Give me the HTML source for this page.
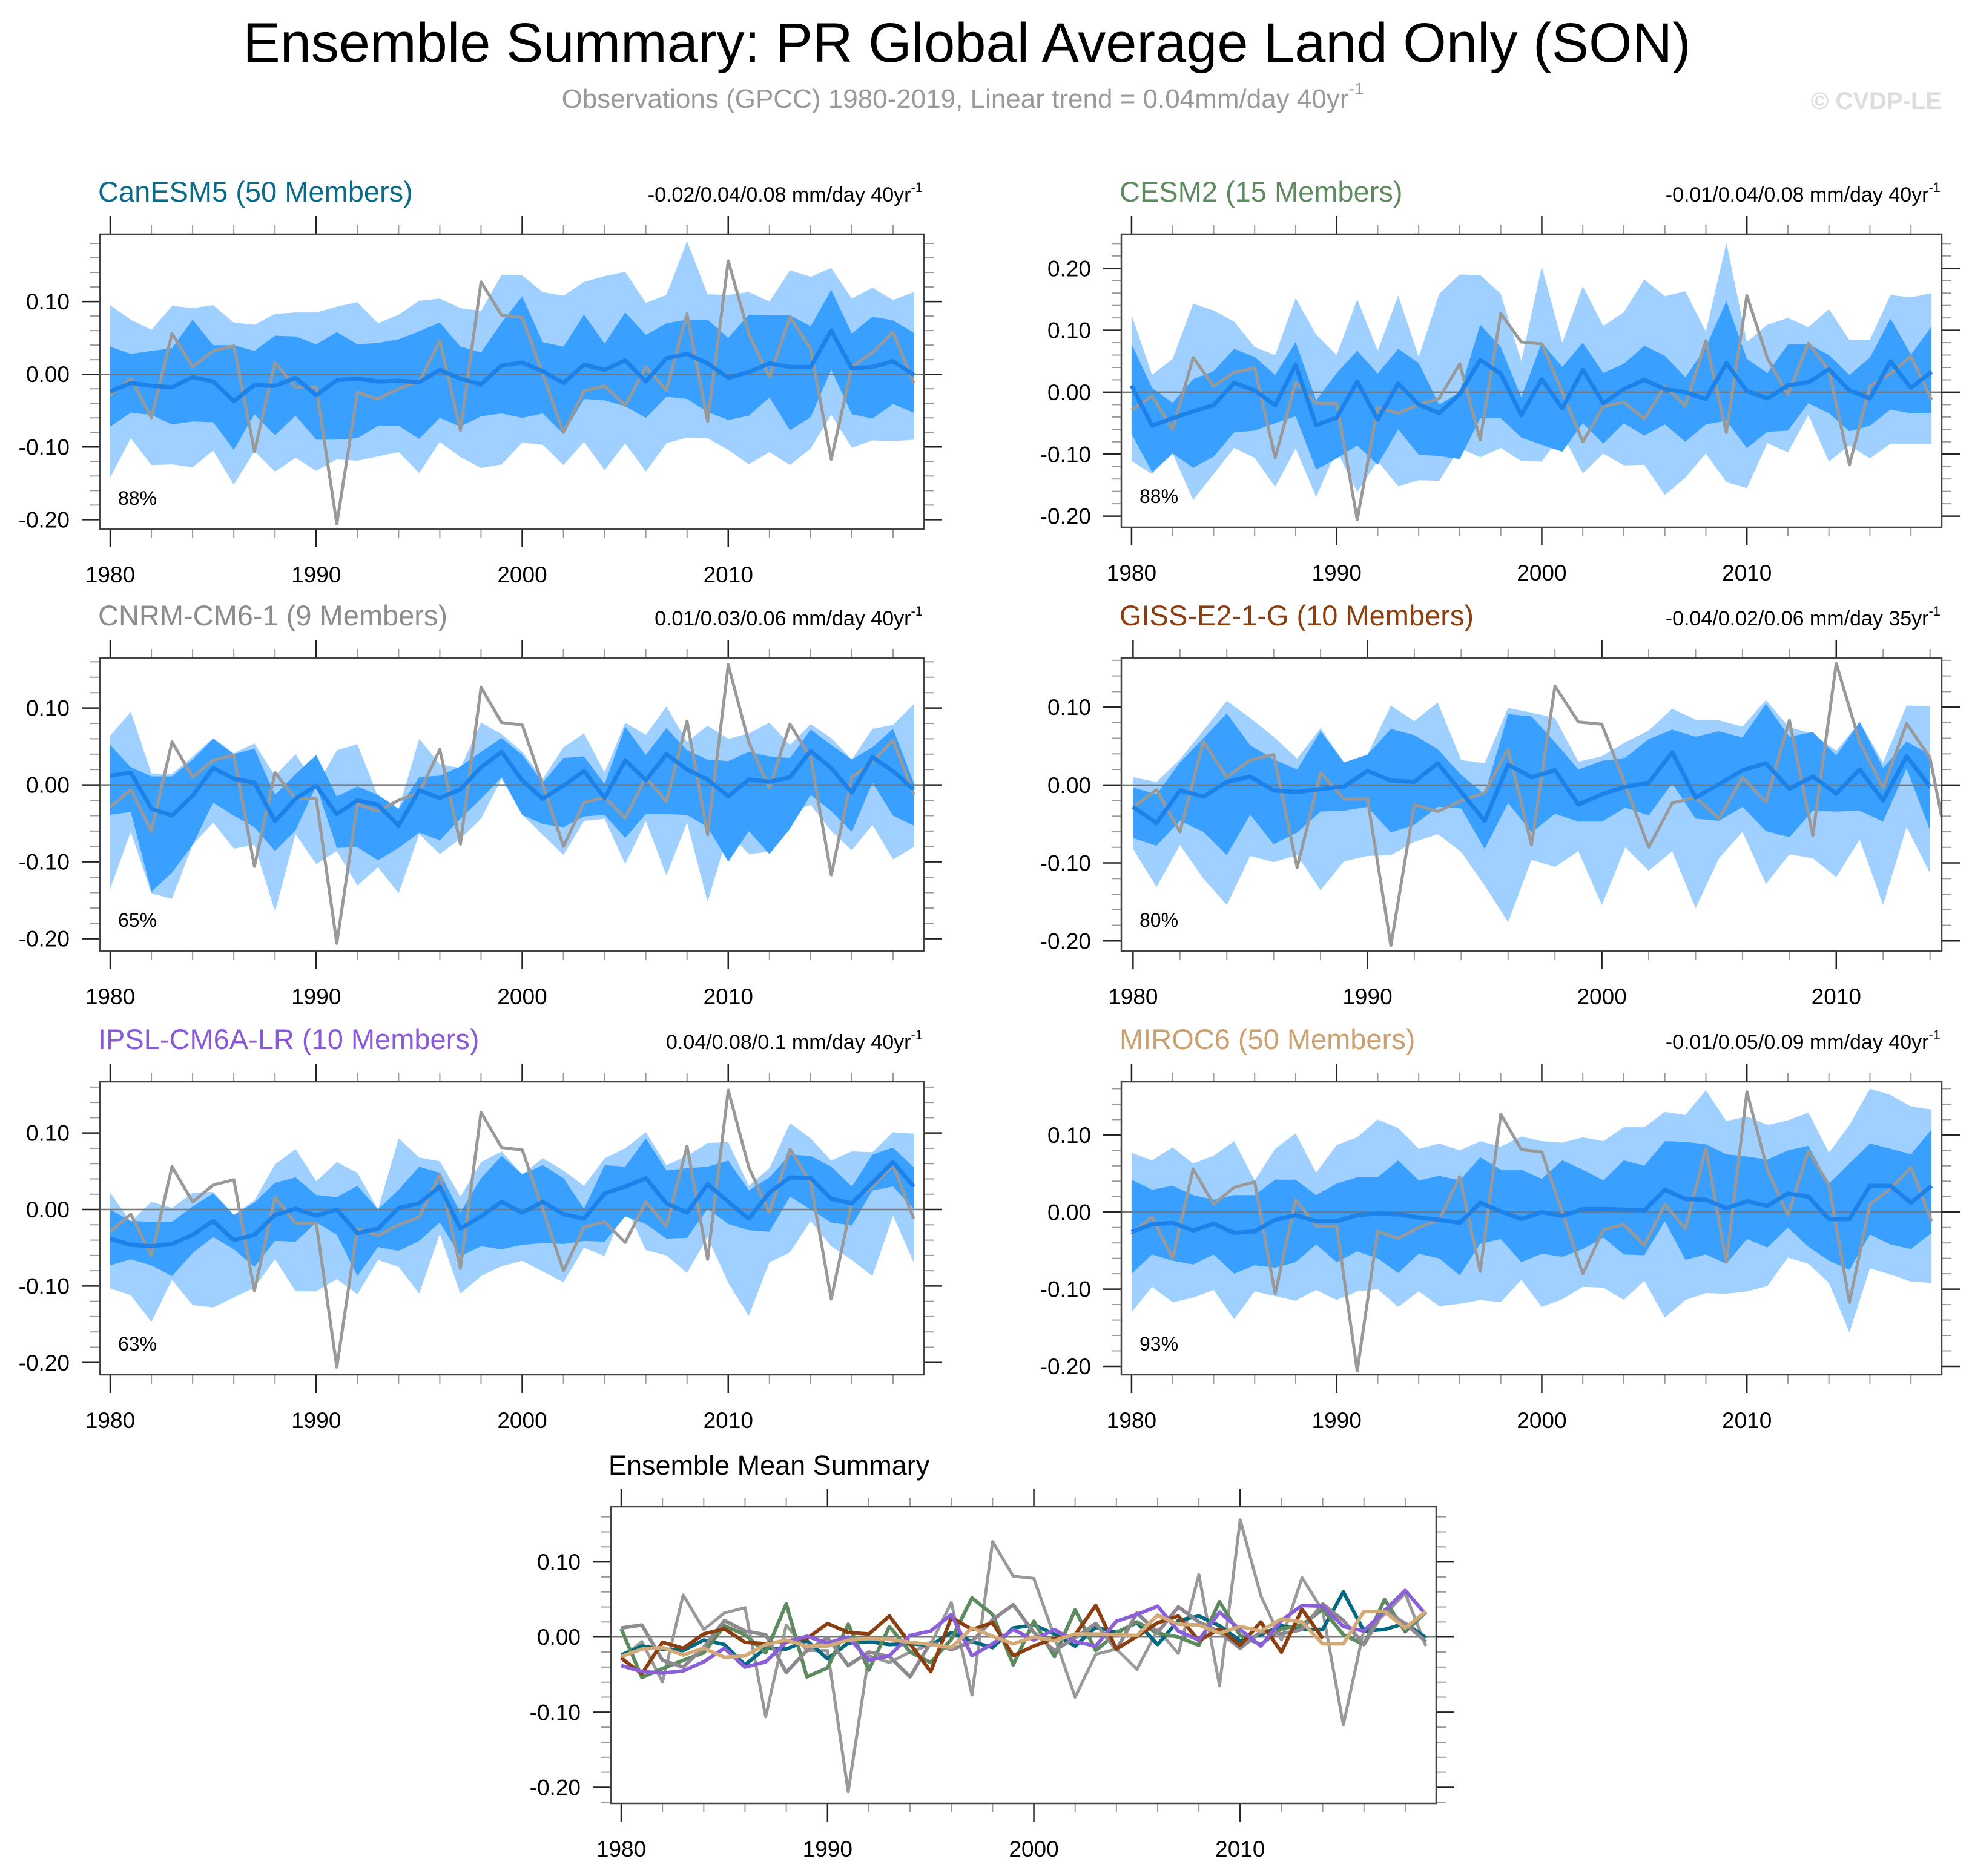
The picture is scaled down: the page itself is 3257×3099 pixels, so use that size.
<!DOCTYPE html>
<html><head><meta charset="utf-8"><style>
html,body{margin:0;padding:0;background:#fff}
svg text{font-family:"Liberation Sans",sans-serif}
</style></head><body>
<svg id="chart" xmlns="http://www.w3.org/2000/svg" width="3257" height="3094" viewBox="0 0 3257 3094">
<rect x="0" y="0" width="3257" height="3094" fill="#fff"/>
<text x="1597" y="102" font-size="92" text-anchor="middle" fill="#000">Ensemble Summary: PR Global Average Land Only (SON)</text>
<text x="1590" y="178" font-size="44" text-anchor="middle" fill="#999">Observations (GPCC) 1980-2019, Linear trend = 0.04mm/day 40yr<tspan font-size="28" dy="-22">-1</tspan></text>
<text x="3207" y="180" font-size="40" font-weight="bold" text-anchor="end" fill="#ddd">© CVDP-LE</text>
<g id="panels"></g>
</svg>
<script>
const obs=[-0.029,-0.006,-0.060,0.056,0.010,0.032,0.039,-0.106,0.016,-0.018,-0.018,-0.206,-0.025,-0.034,-0.020,-0.010,0.046,-0.077,0.127,0.081,0.078,0.000,-0.080,-0.023,-0.016,-0.043,0.010,-0.022,0.083,-0.065,0.156,0.055,-0.004,0.079,0.035,-0.117,0.010,0.030,0.058,-0.012];

const canMean=[-0.024,-0.012,-0.016,-0.018,-0.004,-0.010,-0.037,-0.015,-0.016,-0.005,-0.029,-0.008,-0.006,-0.010,-0.009,-0.011,0.006,-0.006,-0.014,0.012,0.016,0.004,-0.012,0.013,0.006,0.019,-0.010,0.022,0.028,0.015,-0.005,0.003,0.015,0.010,0.010,0.060,0.008,0.010,0.018,-0.001];
const canQ75=[0.038,0.028,0.032,0.036,0.075,0.040,0.040,0.032,0.053,0.052,0.041,0.058,0.041,0.043,0.048,0.059,0.071,0.038,0.030,0.071,0.107,0.044,0.038,0.082,0.042,0.085,0.054,0.070,0.075,0.075,0.050,0.082,0.081,0.081,0.066,0.116,0.056,0.079,0.074,0.057];
const canQ25=[-0.072,-0.053,-0.056,-0.069,-0.065,-0.066,-0.104,-0.055,-0.084,-0.057,-0.090,-0.090,-0.088,-0.071,-0.071,-0.089,-0.060,-0.072,-0.058,-0.054,-0.060,-0.054,-0.082,-0.034,-0.036,-0.044,-0.060,-0.031,-0.034,-0.052,-0.063,-0.057,-0.032,-0.077,-0.059,0.006,-0.055,-0.061,-0.041,-0.053];
const canQ90=[0.095,0.075,0.061,0.094,0.091,0.095,0.071,0.068,0.083,0.085,0.085,0.093,0.099,0.070,0.082,0.101,0.104,0.091,0.087,0.137,0.136,0.113,0.108,0.127,0.135,0.141,0.098,0.109,0.183,0.110,0.109,0.113,0.100,0.143,0.134,0.146,0.104,0.119,0.102,0.113];
const canQ10=[-0.142,-0.088,-0.125,-0.124,-0.128,-0.105,-0.152,-0.106,-0.134,-0.115,-0.133,-0.117,-0.119,-0.113,-0.107,-0.136,-0.093,-0.114,-0.129,-0.124,-0.094,-0.097,-0.125,-0.093,-0.132,-0.095,-0.134,-0.095,-0.087,-0.088,-0.104,-0.124,-0.107,-0.125,-0.102,-0.056,-0.101,-0.091,-0.092,-0.090];

const cesmMean=[0.011,-0.054,-0.042,-0.031,-0.021,0.015,0.003,-0.021,0.044,-0.053,-0.041,0.017,-0.044,0.014,-0.020,-0.034,-0.003,0.052,0.030,-0.037,0.021,-0.026,0.036,-0.018,0.005,0.020,0.005,0.000,-0.011,0.047,0.002,-0.010,0.011,0.016,0.037,0.003,-0.010,0.050,0.007,0.033];
const cesmQ75=[0.078,0.007,-0.017,0.021,0.034,0.070,0.057,0.028,0.081,-0.013,0.031,0.067,0.030,0.070,0.047,-0.020,0.000,0.109,0.073,-0.008,0.080,0.041,0.080,0.031,0.046,0.075,0.059,0.024,0.073,0.147,0.054,0.031,0.077,0.078,0.060,0.028,0.056,0.119,0.061,0.106];
const cesmQ25=[-0.067,-0.129,-0.099,-0.122,-0.104,-0.065,-0.062,-0.050,-0.039,-0.125,-0.107,-0.086,-0.117,-0.060,-0.101,-0.103,-0.108,-0.042,-0.042,-0.073,-0.085,-0.096,-0.050,-0.083,-0.050,-0.070,-0.052,-0.080,-0.052,-0.046,-0.090,-0.064,-0.062,-0.018,-0.034,-0.063,-0.054,-0.028,-0.034,-0.034];
const cesmQ90=[0.125,0.028,0.054,0.143,0.132,0.114,0.073,0.060,0.152,0.093,0.060,0.150,0.067,0.156,0.057,0.159,0.190,0.189,0.159,0.050,0.203,0.080,0.171,0.107,0.129,0.182,0.155,0.163,0.098,0.241,0.081,0.109,0.120,0.105,0.134,0.084,0.085,0.157,0.153,0.160];
const cesmQ10=[-0.111,-0.132,-0.099,-0.174,-0.132,-0.090,-0.106,-0.153,-0.091,-0.169,-0.094,-0.161,-0.111,-0.152,-0.142,-0.143,-0.090,-0.105,-0.090,-0.111,-0.112,-0.067,-0.131,-0.099,-0.118,-0.117,-0.166,-0.138,-0.099,-0.145,-0.155,-0.082,-0.097,-0.037,-0.112,-0.086,-0.107,-0.083,-0.083,-0.083];

const cnrmMean=[0.012,0.016,-0.031,-0.040,-0.014,0.022,0.008,0.003,-0.047,-0.018,-0.001,-0.038,-0.020,-0.026,-0.053,-0.007,-0.017,-0.006,0.023,0.043,0.006,-0.018,-0.001,0.018,-0.017,0.032,0.006,0.040,0.020,0.007,-0.015,0.007,0.004,0.010,0.044,0.022,-0.010,0.036,0.018,-0.006];
const cnrmQ75=[0.052,0.023,0.011,0.011,0.033,0.060,0.040,0.047,-0.013,0.014,0.039,-0.015,-0.002,-0.013,-0.031,0.010,0.012,0.024,0.043,0.061,0.039,0.003,0.035,0.037,0.001,0.076,0.039,0.074,0.045,0.033,0.031,0.043,0.037,0.035,0.072,0.052,0.033,0.049,0.073,0.003];
const cnrmQ25=[-0.039,-0.035,-0.139,-0.114,-0.078,-0.023,-0.040,-0.055,-0.086,-0.059,-0.001,-0.082,-0.081,-0.098,-0.082,-0.062,-0.072,-0.044,-0.018,0.010,-0.039,-0.051,-0.055,-0.041,-0.039,-0.069,-0.038,-0.038,-0.039,-0.055,-0.100,-0.060,-0.090,-0.057,-0.013,-0.034,-0.061,0.003,-0.040,-0.053];
const cnrmQ90=[0.064,0.095,0.015,0.014,0.037,0.061,0.041,0.054,0.012,0.040,-0.002,0.045,0.053,-0.015,-0.031,0.060,0.027,0.022,0.081,0.066,0.043,0.008,0.049,0.067,0.016,0.081,0.065,0.102,0.056,0.077,0.060,0.067,0.081,0.052,0.079,0.061,0.033,0.073,0.078,0.105];
const cnrmQ10=[-0.135,-0.061,-0.141,-0.148,-0.078,-0.049,-0.083,-0.078,-0.165,-0.064,-0.103,-0.086,-0.131,-0.107,-0.141,-0.064,-0.090,-0.070,-0.044,0.008,-0.039,-0.065,-0.091,-0.047,-0.044,-0.103,-0.047,-0.118,-0.049,-0.152,-0.062,-0.090,-0.087,-0.036,-0.026,-0.060,-0.085,-0.052,-0.097,-0.081];

const gissMean=[-0.028,-0.049,-0.007,-0.015,0.004,0.011,-0.007,-0.009,-0.005,-0.002,0.018,0.006,0.004,0.028,-0.009,-0.046,0.026,0.010,0.019,-0.025,-0.012,-0.002,0.003,0.042,-0.016,0.001,0.019,0.028,-0.005,0.011,-0.011,0.020,-0.020,0.037,-0.002];
const gissQ75=[-0.003,-0.012,0.029,0.060,0.092,0.051,0.033,0.020,0.069,0.029,0.039,0.072,0.064,0.046,0.013,-0.012,0.091,0.088,0.055,0.020,0.031,0.035,0.059,0.071,0.062,0.069,0.061,0.104,0.062,0.068,0.038,0.081,0.022,0.056,0.039];
const gissQ25=[-0.068,-0.078,-0.046,-0.060,-0.090,-0.038,-0.076,-0.061,-0.034,-0.033,-0.028,-0.061,-0.051,-0.028,-0.030,-0.082,-0.023,-0.061,-0.037,-0.047,-0.047,-0.029,-0.039,0.002,-0.043,-0.046,-0.028,-0.059,-0.067,-0.033,-0.034,-0.033,-0.047,0.021,-0.058];
const gissQ90=[0.010,0.004,0.033,0.070,0.108,0.086,0.062,0.034,0.073,0.029,0.039,0.102,0.082,0.106,0.032,0.028,0.099,0.093,0.086,0.030,0.037,0.055,0.070,0.098,0.084,0.083,0.075,0.109,0.074,0.066,0.044,0.081,0.029,0.102,0.101];
const gissQ10=[-0.082,-0.131,-0.077,-0.120,-0.154,-0.091,-0.099,-0.090,-0.135,-0.098,-0.091,-0.090,-0.073,-0.063,-0.086,-0.129,-0.176,-0.096,-0.105,-0.085,-0.154,-0.080,-0.110,-0.085,-0.158,-0.094,-0.060,-0.127,-0.089,-0.094,-0.118,-0.070,-0.154,-0.054,-0.113];

const ipslMean=[-0.038,-0.046,-0.048,-0.045,-0.033,-0.015,-0.040,-0.033,-0.007,0.001,-0.008,0.000,-0.031,-0.025,0.002,0.008,0.030,-0.025,-0.009,0.010,-0.004,0.010,-0.006,-0.012,0.021,0.030,0.041,0.008,-0.004,0.033,0.010,-0.012,0.022,0.042,0.041,0.014,0.008,0.035,0.062,0.030];
const ipslQ75=[0.000,-0.015,-0.016,-0.016,0.004,0.021,-0.007,0.009,0.035,0.042,0.019,0.016,0.031,0.000,0.026,0.056,0.048,-0.004,0.041,0.070,0.046,0.058,0.041,0.001,0.058,0.056,0.093,0.051,0.054,0.056,0.064,0.025,0.042,0.072,0.070,0.056,0.030,0.072,0.081,0.055];
const ipslQ25=[-0.073,-0.065,-0.073,-0.087,-0.057,-0.036,-0.052,-0.075,-0.041,-0.042,-0.017,-0.033,-0.087,-0.049,-0.054,-0.041,-0.017,-0.061,-0.048,-0.052,-0.046,-0.044,-0.045,-0.041,-0.042,-0.009,-0.019,-0.038,-0.037,0.001,-0.019,-0.027,-0.029,0.017,0.000,-0.017,-0.021,0.025,0.030,0.001];
const ipslQ90=[0.022,-0.016,0.010,0.002,0.022,0.023,-0.007,0.012,0.059,0.079,0.037,0.062,0.048,0.000,0.093,0.068,0.063,0.017,0.062,0.076,0.046,0.067,0.051,0.031,0.067,0.080,0.101,0.058,0.070,0.087,0.088,0.031,0.054,0.113,0.093,0.064,0.076,0.075,0.101,0.099];
const ipslQ10=[-0.103,-0.112,-0.147,-0.092,-0.125,-0.128,-0.115,-0.102,-0.065,-0.107,-0.107,-0.091,-0.111,-0.066,-0.075,-0.110,-0.032,-0.110,-0.087,-0.074,-0.067,-0.081,-0.095,-0.050,-0.061,0.005,-0.053,-0.060,-0.083,-0.036,-0.096,-0.139,-0.069,-0.056,-0.015,-0.048,-0.066,-0.087,-0.008,-0.069];

const mirocMean=[-0.026,-0.016,-0.014,-0.024,-0.015,-0.027,-0.025,-0.010,-0.004,-0.012,-0.012,-0.004,-0.002,-0.003,-0.007,-0.010,-0.014,0.012,0.001,-0.009,0.000,-0.005,0.004,0.004,0.003,0.002,0.029,0.017,0.016,0.005,0.014,0.008,0.024,0.020,-0.009,-0.009,0.034,0.034,0.012,0.034];
const mirocQ75=[0.042,0.029,0.034,0.022,0.016,0.022,0.022,0.042,0.042,0.022,0.037,0.045,0.045,0.067,0.041,0.047,0.041,0.071,0.055,0.055,0.043,0.067,0.055,0.041,0.067,0.060,0.092,0.091,0.088,0.075,0.072,0.068,0.080,0.086,0.037,0.063,0.089,0.082,0.075,0.107];
const mirocQ25=[-0.080,-0.055,-0.063,-0.068,-0.055,-0.080,-0.069,-0.072,-0.065,-0.042,-0.065,-0.051,-0.060,-0.079,-0.054,-0.060,-0.082,-0.041,-0.035,-0.065,-0.054,-0.058,-0.048,-0.033,-0.055,-0.056,-0.012,-0.062,-0.055,-0.067,-0.035,-0.046,-0.020,-0.045,-0.063,-0.075,-0.029,-0.042,-0.048,-0.027];
const mirocQ90=[0.077,0.067,0.084,0.063,0.073,0.092,0.041,0.082,0.102,0.051,0.087,0.097,0.120,0.109,0.082,0.089,0.080,0.092,0.085,0.098,0.092,0.090,0.097,0.092,0.110,0.110,0.130,0.126,0.158,0.118,0.124,0.113,0.119,0.129,0.077,0.113,0.160,0.152,0.137,0.133];
const mirocQ10=[-0.130,-0.097,-0.117,-0.111,-0.101,-0.139,-0.103,-0.109,-0.115,-0.101,-0.114,-0.103,-0.100,-0.123,-0.103,-0.122,-0.119,-0.114,-0.117,-0.088,-0.123,-0.113,-0.097,-0.098,-0.114,-0.089,-0.137,-0.114,-0.105,-0.106,-0.103,-0.096,-0.059,-0.067,-0.092,-0.156,-0.073,-0.081,-0.090,-0.092];

const startYear=1980;
const xTickYears=[1980,1990,2000,2010];
const yTicksStd=[0.10,0.00,-0.10,-0.20];
const yTickLabelsStd=["0.10","0.00","-0.10","-0.20"];
const yTicksCesm=[0.20,0.10,0.00,-0.10,-0.20];
const yTickLabelsCesm=["0.20","0.10","0.00","-0.10","-0.20"];

const NS="http://www.w3.org/2000/svg";
const root=document.getElementById('panels');
function mk(tag,attrs,parent){const e=document.createElementNS(NS,tag);for(const k in attrs)e.setAttribute(k,attrs[k]);(parent||root).appendChild(e);return e;}

const panels=[
 {key:'canesm5',title:'CanESM5 (50 Members)',color:'#0b6a8a',trend:'-0.02/0.04/0.08 mm/day 40yr',pct:'88%',x:165,y:387,w:1361,h:487,x0:1979.5,x1:2019.5,y0:-0.213,y1:0.1925,yt:yTicksStd,yl:yTickLabelsStd,d:[canMean,canQ25,canQ75,canQ10,canQ90]},
 {key:'cesm2',title:'CESM2 (15 Members)',color:'#5e8a60',trend:'-0.01/0.04/0.08 mm/day 40yr',pct:'88%',x:1852,y:387,w:1355,h:484,x0:1979.5,x1:2019.5,y0:-0.218,y1:0.255,yt:yTicksCesm,yl:yTickLabelsCesm,d:[cesmMean,cesmQ25,cesmQ75,cesmQ10,cesmQ90]},
 {key:'cnrm',title:'CNRM-CM6-1 (9 Members)',color:'#8c8c8c',trend:'0.01/0.03/0.06 mm/day 40yr',pct:'65%',x:165,y:1087,w:1361,h:484,x0:1979.5,x1:2019.5,y0:-0.216,y1:0.165,yt:yTicksStd,yl:yTickLabelsStd,d:[cnrmMean,cnrmQ25,cnrmQ75,cnrmQ10,cnrmQ90]},
 {key:'giss',title:'GISS-E2-1-G (10 Members)',color:'#8b3e10',trend:'-0.04/0.02/0.06 mm/day 35yr',pct:'80%',x:1852,y:1087,w:1355,h:484,x0:1979.5,x1:2014.5,y0:-0.213,y1:0.163,yt:yTicksStd,yl:yTickLabelsStd,d:[gissMean,gissQ25,gissQ75,gissQ10,gissQ90]},
 {key:'ipsl',title:'IPSL-CM6A-LR (10 Members)',color:'#8a5ad6',trend:'0.04/0.08/0.1 mm/day 40yr',pct:'63%',x:165,y:1787,w:1361,h:484,x0:1979.5,x1:2019.5,y0:-0.216,y1:0.167,yt:yTicksStd,yl:yTickLabelsStd,d:[ipslMean,ipslQ25,ipslQ75,ipslQ10,ipslQ90]},
 {key:'miroc6',title:'MIROC6 (50 Members)',color:'#c9a070',trend:'-0.01/0.05/0.09 mm/day 40yr',pct:'93%',x:1852,y:1787,w:1355,h:484,x0:1979.5,x1:2019.5,y0:-0.211,y1:0.169,yt:yTicksStd,yl:yTickLabelsStd,d:[mirocMean,mirocQ25,mirocQ75,mirocQ10,mirocQ90]}
];

function axes(p,g){
 const sx=v=>p.x+(v-p.x0)/(p.x1-p.x0)*p.w;
 const sy=v=>p.y+(p.y1-v)/(p.y1-p.y0)*p.h;
 for(let k=-15;k<=15;k++){const v=k*0.02;if(v<p.y0||v>p.y1)continue;const yy=sy(v);
   const major=(k%5===0);const L=major?30:16;
   const t1=mk('line',{x1:p.x-L,x2:p.x,y1:yy,y2:yy,stroke:major?'#222':'#999','stroke-width':major?2.5:2},g);
   
   const t2=mk('line',{x1:p.x+p.w,x2:p.x+p.w+L,y1:yy,y2:yy,stroke:major?'#222':'#999','stroke-width':major?2.5:2},g);
   }
 p.yt.forEach((v,i)=>{const t=mk('text',{x:p.x-50,y:sy(v)+13,'font-size':37,'text-anchor':'end',fill:'#000'},g);t.textContent=p.yl[i];
   });
 for(let yr=1980;yr<=p.x1;yr+=2){const xx=sx(yr);const major=(yr%10===0);const L=major?30:15;
   const a=mk('line',{x1:xx,x2:xx,y1:p.y-L,y2:p.y,stroke:major?'#222':'#999','stroke-width':major?2.5:2},g);
   
   const b=mk('line',{x1:xx,x2:xx,y1:p.y+p.h,y2:p.y+p.h+L,stroke:major?'#222':'#999','stroke-width':major?2.5:2},g);
   }
 xTickYears.forEach(yr=>{const t=mk('text',{x:sx(yr),y:p.y+p.h+88,'font-size':37,'text-anchor':'middle',fill:'#000'},g);t.textContent=yr;
   });
 return [sx,sy];
}
function clip(p,id,g){const c=mk('clipPath',{id:id},g);mk('rect',{x:p.x,y:p.y,width:p.w,height:p.h},c);}
function linePts(arr,sx,sy){return arr.map((v,i)=>sx(startYear+i).toFixed(1)+','+sy(v).toFixed(1)).join(' ');}
function bandPts(lo,hi,sx,sy){const up=hi.map((v,i)=>sx(startYear+i).toFixed(1)+','+sy(v).toFixed(1));const dn=lo.map((v,i)=>sx(startYear+i).toFixed(1)+','+sy(v).toFixed(1)).reverse();return up.concat(dn).join(' ');}

panels.forEach(p=>{
 const g=mk('g',{});
 
 
 const [sx,sy]=axes(p,g);
 clip(p,'clip-'+p.key,g);
 const inner=mk('g',{'clip-path':'url(#clip-'+p.key+')'},g);
 const b1=mk('polygon',{points:bandPts(p.d[3],p.d[4],sx,sy),fill:'#a0d0ff'},inner);
 
 
 const b2=mk('polygon',{points:bandPts(p.d[1],p.d[2],sx,sy),fill:'#39a0ff'},inner);
 
 
 const z=mk('line',{x1:p.x,x2:p.x+p.w,y1:sy(0),y2:sy(0),stroke:'#777','stroke-width':2.5},inner);
 
 
 const o=mk('polyline',{points:linePts(obs,sx,sy),fill:'none',stroke:'#999','stroke-width':5,'stroke-linejoin':'round'},inner);
 
 
 const m=mk('polyline',{points:linePts(p.d[0],sx,sy),fill:'none',stroke:'#1c82ea','stroke-width':7,'stroke-linejoin':'round'},inner);
 
 
 const fr=mk('rect',{x:p.x,y:p.y,width:p.w,height:p.h,fill:'none',stroke:'#444','stroke-width':2.5},g);
 
 
 const t=mk('text',{x:p.x-3,y:p.y-54,'font-size':47,fill:p.color},g);t.textContent=p.title;
 
 
 const tr=mk('text',{x:p.x+p.w-2,y:p.y-54,'font-size':34,'text-anchor':'end',fill:'#000'},g);tr.textContent=p.trend;
 const sup=mk('tspan',{'font-size':22,dy:-16},tr);sup.textContent='-1';
 
 
 const pc=mk('text',{x:p.x+30,y:p.y+p.h-40,'font-size':32,fill:'#000'},g);pc.textContent=p.pct;
 
 
});

const summaryNames=['canesm5','cesm2','cnrm','giss','ipsl','miroc6'];
const summaryColors=['#006880','#5e8a60','#8e8890','#8b3e10','#8a5fd8','#d2aa78'];
const summarySeries=[canMean,cesmMean,cnrmMean,gissMean,ipslMean,mirocMean];
const sp={key:'summary',x:1009,y:2489,w:1363,h:490,x0:1979.5,x1:2019.5,y0:-0.2214,y1:0.1734,yt:yTicksStd,yl:yTickLabelsStd};
(function(){
 const g=mk('g',{});
 
 
 const [sx,sy]=axes(sp,g);
 clip(sp,'clip-summary',g);
 const inner=mk('g',{'clip-path':'url(#clip-summary)'},g);
 const z=mk('line',{x1:sp.x,x2:sp.x+sp.w,y1:sy(0),y2:sy(0),stroke:'#777','stroke-width':2.5},inner);
 
 
 const o=mk('polyline',{points:linePts(obs,sx,sy),fill:'none',stroke:'#999','stroke-width':5,'stroke-linejoin':'round'},inner);
 
 
 summarySeries.forEach((s,i)=>{
  const l=mk('polyline',{points:linePts(s,sx,sy),fill:'none',stroke:summaryColors[i],'stroke-width':6,'stroke-linejoin':'round'},inner);
  
  
 });
 const fr=mk('rect',{x:sp.x,y:sp.y,width:sp.w,height:sp.h,fill:'none',stroke:'#444','stroke-width':2.5},g);
 
 
 const t=mk('text',{x:1005,y:2436,'font-size':45,fill:'#000'},g);t.textContent='Ensemble Mean Summary';
 
 
})();
</script>
</body></html>
